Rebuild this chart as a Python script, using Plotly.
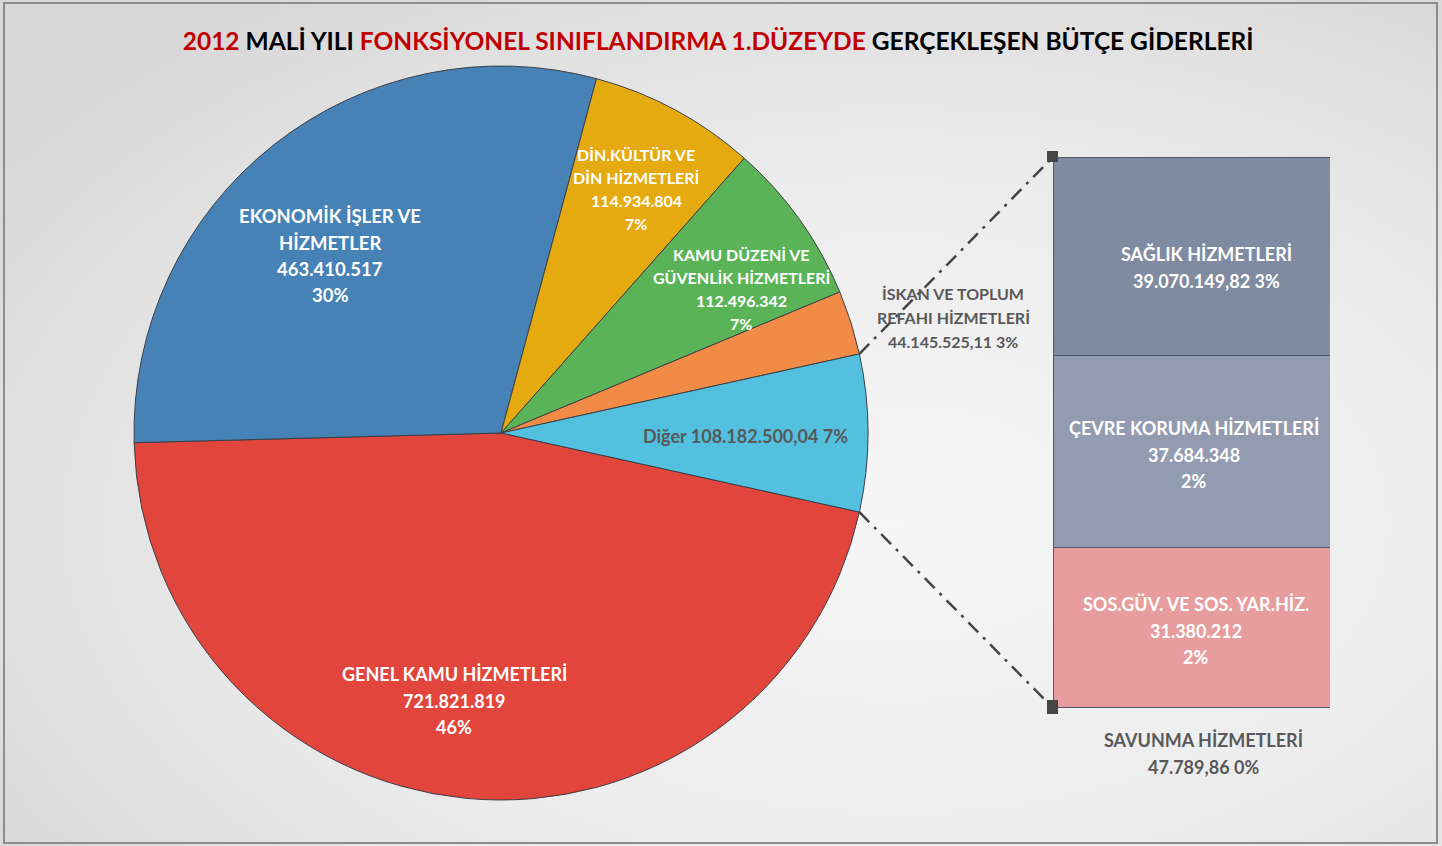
import base64
import math
import plotly.graph_objects as go

# ---------------- data ----------------
pie_labels = ["GENEL KAMU HİZMETLERİ", "EKONOMİK İŞLER VE HİZMETLER",
              "DİN.KÜLTÜR VE DİN HİZMETLERİ", "KAMU DÜZENİ VE GÜVENLİK HİZMETLERİ",
              "İSKAN VE TOPLUM REFAHI HİZMETLERİ", "Diğer"]
pie_values = [721821819, 463410517, 114934804, 112496342, 44145525.11, 108182500.04]
pie_colors = ["#e2453c", "#4682b5", "#e5aa0f", "#5ab357", "#f28b46", "#52c0de"]

bar_labels = ["SAVUNMA HİZMETLERİ", "SOS.GÜV. VE SOS. YAR.HİZ.",
              "ÇEVRE KORUMA HİZMETLERİ", "SAĞLIK HİZMETLERİ"]
bar_values = [47789.86, 31380212, 37684348, 39070149.82]
bar_colors = ["#7a8296", "#e79d9d", "#939bb0", "#808aa0"]

pie_text = [
    ["GENEL KAMU HİZMETLERİ", "721.821.819", "46%"],
    ["EKONOMİK İŞLER VE", "HİZMETLER", "463.410.517", "30%"],
    ["DİN.KÜLTÜR VE", "DİN HİZMETLERİ", "114.934.804", "7%"],
    ["KAMU DÜZENİ VE", "GÜVENLİK HİZMETLERİ", "112.496.342", "7%"],
    ["İSKAN VE TOPLUM", "REFAHI HİZMETLERİ", "44.145.525,11 3%"],
    ["Diğer 108.182.500,04 7%"],
]
bar_text = [
    ["SAVUNMA HİZMETLERİ", "47.789,86 0%"],
    ["SOS.GÜV. VE SOS. YAR.HİZ.", "31.380.212", "2%"],
    ["ÇEVRE KORUMA HİZMETLERİ", "37.684.348", "2%"],
    ["SAĞLIK HİZMETLERİ", "39.070.149,82 3%"],
]

# ---------------- layout constants (pixels) ----------------
W, H = 1442, 846
FONT = "Lato"
CX, CY, R = 501, 433, 367            # pie centre / radius
BX0, BX1, BY0, BY1 = 1053, 1330, 157, 708   # bar box (top-left / bottom-right)
bar_label_dx = [0, 4, 2, 15]         # small label nudges (pixels) inside segments
bar_label_dy = [0, 3, 3, 11]


def px(x):
    return x / W


def py(y):
    return 1 - y / H


total = sum(pie_values)
other_frac = pie_values[-1] / total
rotation = 90 + 360 * other_frac / 2   # "Diğer" slice centred on 3 o'clock

fig = go.Figure()

fig.add_trace(go.Pie(
    labels=pie_labels, values=pie_values, sort=False, direction="clockwise",
    rotation=rotation, textinfo="none", hoverinfo="label+value+percent",
    marker=dict(colors=pie_colors, line=dict(color="#3c4048", width=1)),
    domain=dict(x=[px(CX - R), px(CX + R)], y=[py(CY + R), py(CY - R)]),
    showlegend=False,
))

for lab, val, col in zip(bar_labels, bar_values, bar_colors):
    fig.add_trace(go.Bar(
        x=[0], y=[val], name=lab, width=1,
        marker=dict(color=col, line=dict(color="#505666", width=1)),
        xaxis="x", yaxis="y", showlegend=False, hoverinfo="name+y",
    ))

bar_total = sum(bar_values)

annotations = []


def add_lines(x, y0, lines, size, color, spacing):
    for i, line in enumerate(lines):
        annotations.append(dict(
            x=px(x), y=py(y0 + i * spacing), xref="paper", yref="paper",
            text="<b>" + line + "</b>",
            showarrow=False, xanchor="center", yanchor="middle",
            font=dict(family=FONT, size=size, color=color),
        ))


# pie labels (placed where the reference puts them)
add_lines(454, 674, pie_text[0], 18, "white", 26.5)
add_lines(330, 216, pie_text[1], 18.5, "white", 26.5)
add_lines(636, 154, pie_text[2], 16, "white", 23)
add_lines(741, 254, pie_text[3], 16, "white", 23.3)
add_lines(953, 294, pie_text[4], 16, "#595959", 23.5)
add_lines(745, 436, pie_text[5], 18, "#595959", 26)

# bar labels centred on each stacked segment
cum = 0
for i, (val, lines) in enumerate(zip(bar_values, bar_text)):
    mid = cum + val / 2
    cum += val
    if i == 0:
        add_lines(1203, 740, lines, 18, "#595959", 26.5)
        continue
    n = len(lines)
    spacing = 26.5
    seg_mid_px = BY1 - (mid / bar_total) * (BY1 - BY0)
    first = seg_mid_px - (n - 1) * spacing / 2 + bar_label_dy[i]
    add_lines((BX0 + BX1) / 2 + bar_label_dx[i], first, lines, 18, "white", spacing)

# ---------------- connectors ----------------
shapes = []
cum_before_other = sum(pie_values[:-1])
a_start = math.radians(rotation + 360 * cum_before_other / total)   # Diğer start
a_end = math.radians(rotation + 360)                              # Diğer end
p1 = (CX + R * math.sin(a_start), CY - R * math.cos(a_start))
p2 = (CX + R * math.sin(a_end), CY - R * math.cos(a_end))
for (sx, sy), (ex, ey) in [(p1, (BX0, BY0)), (p2, (BX0, BY1))]:
    shapes.append(dict(type="line", xref="paper", yref="paper",
                       x0=px(sx), y0=py(sy), x1=px(ex), y1=py(ey),
                       line=dict(color="#454545", width=2.5, dash="14px,7px,3px,7px"),
                       layer="above"))
    shapes.append(dict(type="rect", xref="paper", yref="paper",
                       xsizemode="pixel", ysizemode="pixel",
                       xanchor=px(ex), yanchor=py(ey),
                       x0=-6, x1=5, y0=-6 if ey > 400 else -5, y1=6 if ey < 400 else 8,
                       fillcolor="#454545", line=dict(width=0), layer="above"))

# frame
shapes.append(dict(type="rect", xref="paper", yref="paper", x0=px(4), x1=px(1437),
                   y0=py(843), y1=py(3), line=dict(color="#8c8c8c", width=2),
                   fillcolor="rgba(0,0,0,0)", layer="below"))

# ---------------- background gradient ----------------
svg = ("<svg xmlns='http://www.w3.org/2000/svg' width='1442' height='846'>"
       "<defs><radialGradient id='g' cx='62%' cy='62%' r='75%'>"
       "<stop offset='0' stop-color='#f6f6f6'/><stop offset='0.55' stop-color='#ececec'/>"
       "<stop offset='1' stop-color='#d8d8d8'/></radialGradient></defs>"
       "<rect width='1442' height='846' fill='url(#g)'/></svg>")
bg_src = "data:image/svg+xml;base64," + base64.b64encode(svg.encode()).decode()

title_html = ("<b><span style='color:#c00000'>2012</span> MALİ YILI "
              "<span style='color:#c00000'>FONKSİYONEL SINIFLANDIRMA 1.DÜZEYDE</span> "
              "GERÇEKLEŞEN BÜTÇE GİDERLERİ</b>")

fig.update_layout(
    width=W, height=H,
    margin=dict(l=0, r=0, t=0, b=0),
    paper_bgcolor="#e8e8e8", plot_bgcolor="rgba(0,0,0,0)",
    barmode="stack",
    title=dict(text=title_html, x=0.498, xanchor="center", y=py(41), yanchor="middle",
               font=dict(family=FONT, size=24.5, color="black")),
    xaxis=dict(domain=[px(BX0), px(BX1)], range=[-0.5, 0.5], visible=False, fixedrange=True),
    yaxis=dict(domain=[py(BY1), py(BY0)], range=[0, bar_total], visible=False, fixedrange=True),
    annotations=annotations,
    shapes=shapes,
    images=[dict(source=bg_src, xref="paper", yref="paper", x=0, y=1, sizex=1, sizey=1,
                 xanchor="left", yanchor="top", sizing="stretch", layer="below")],
)

fig.write_html("out.html", config={"displayModeBar": False},
               post_script="document.body.style.margin='0';document.body.style.overflow='hidden';")
